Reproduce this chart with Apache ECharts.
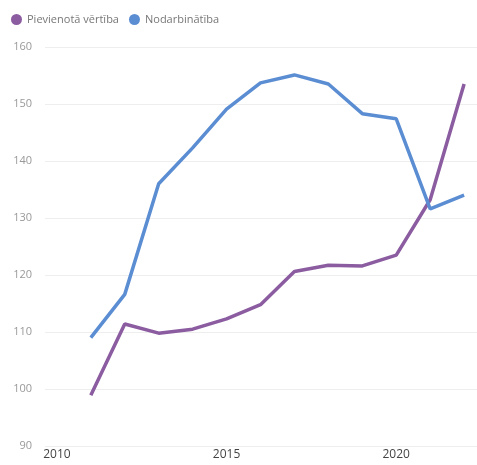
<!DOCTYPE html>
<html><head><meta charset="utf-8">
<script src="https://cdn.jsdelivr.net/npm/echarts@6/dist/echarts.min.js"></script>
<style>html,body{margin:0;padding:0;background:#fff}#c{width:477px;height:465px}</style>
</head><body><div id="c"></div>
<script>
const years = [2011,2012,2013,2014,2015,2016,2017,2018,2019,2020,2021,2022];
const valueAdded = [98.9,111.4,109.8,110.5,112.3,114.8,120.6,121.7,121.6,123.5,133.2,153.5];
const employment = [109.0,116.6,136.0,142.3,149.1,153.7,155.1,153.5,148.3,147.4,131.6,134.0];
const seriesNames = ['Pievienotā vērtība','Nodarbinātība'];
const xTicks = [2010,2015,2020];
const yTicks = [90,100,110,120,130,140,150,160];

const chart = echarts.init(document.getElementById('c'));
chart.setOption({
  animation:false,
  color:['#8B5CA0','#5B8DD3'],
  legend:{
    left:6, top:9, itemWidth:11, itemHeight:11, itemGap:10,
    icon:'circle',
    textStyle:{color:'#777',fontSize:11,fontFamily:'Open Sans'},
    data:seriesNames
  },
  grid:{left:45,right:0,top:47,bottom:19,containLabel:false},
  xAxis:{
    type:'value', min:2009.65, max:2022.38,
    axisLine:{show:false}, axisTick:{show:false}, splitLine:{show:false},
    axisLabel:{customValues:xTicks, color:'#444', fontSize:12, fontFamily:'Open Sans', margin:3, formatter:v=>String(v)}
  },
  yAxis:{
    type:'value', min:yTicks[0], max:yTicks[yTicks.length-1], interval:10,
    axisLine:{show:false}, axisTick:{show:false},
    splitLine:{lineStyle:{color:'#eeeeee',width:1}},
    axisLabel:{color:'#999', fontSize:11, fontFamily:'Open Sans', margin:13}
  },
  series:[
    {name:seriesNames[0], type:'line', showSymbol:false, symbol:'none', lineStyle:{width:3.5},
     data:years.map((y,i)=>[y,valueAdded[i]])},
    {name:seriesNames[1], type:'line', showSymbol:false, symbol:'none', lineStyle:{width:3.5},
     data:years.map((y,i)=>[y,employment[i]])}
  ]
});
</script></body></html>
